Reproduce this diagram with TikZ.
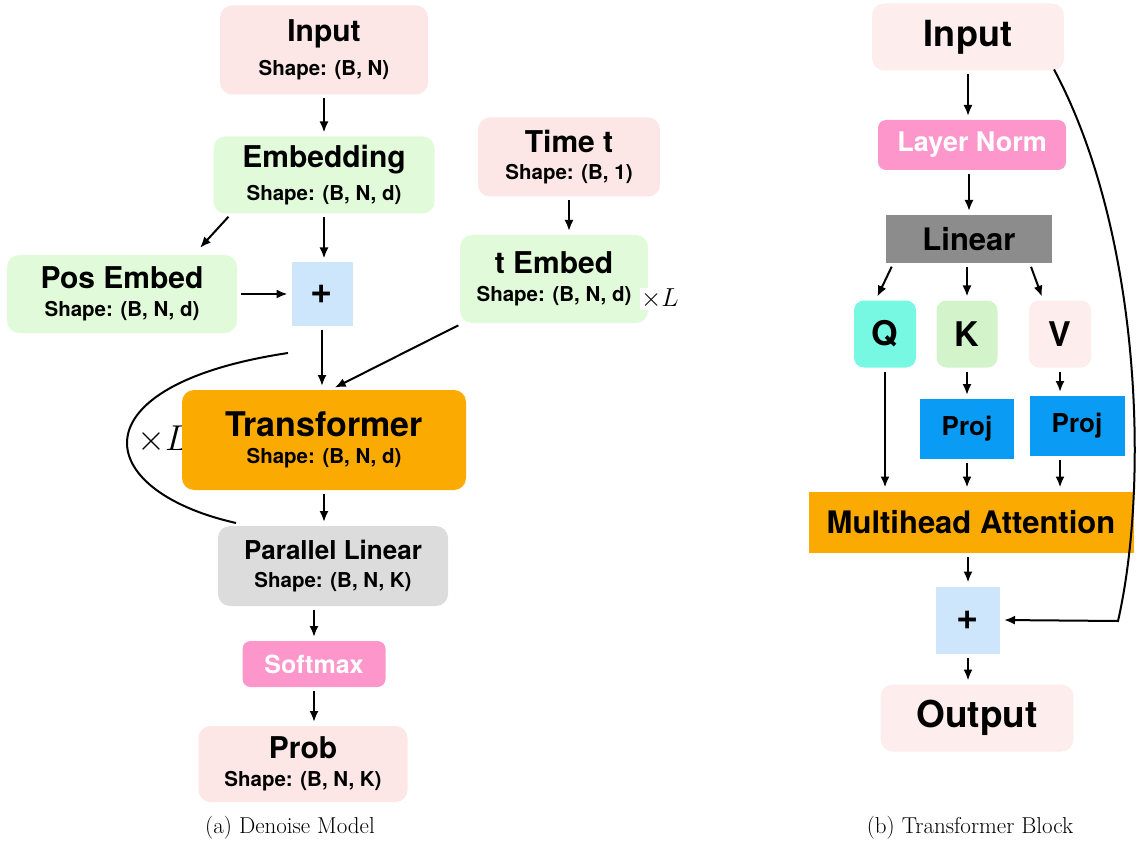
\RequirePackage{fix-cm}
\documentclass[tikz,border=0pt]{standalone}
\usepackage{fontspec}
\newfontfamily\helv{TeX Gyre Heros}
\usetikzlibrary{arrows.meta}
\definecolor{inpink}{HTML}{FCE6E6}
\definecolor{embgreen}{HTML}{E1FBDA}
\definecolor{plusblue}{HTML}{CDE6FB}
\definecolor{trorange}{HTML}{FAAA00}
\definecolor{plgray}{HTML}{DCDCDC}
\definecolor{normpink}{HTML}{FD97CB}
\definecolor{lingray}{HTML}{8C8C8C}
\definecolor{qcyan}{HTML}{76F8E3}
\definecolor{kgreen}{HTML}{D3F3CB}
\definecolor{projblue}{HTML}{0A9BF5}
\newcommand{\pxfont}[1]{\fontsize{#1}{#1}\selectfont}
\newcommand{\shp}[1]{\\[11pt]{\pxfont{20.5}Shape: #1}}
\begin{document}
\begin{tikzpicture}[x=1pt,y=-1pt,>={Latex[length=11pt,width=9pt]},line width=2pt,
  box/.style={rounded corners=12pt,align=center,inner sep=0pt,font=\helv\bfseries},
  sq/.style={align=center,inner sep=0pt,font=\helv\bfseries},
  arr/.style={->,shorten >=3pt,shorten <=3pt}]
\useasboundingbox (0,0) rectangle (1140,842);
% (a) denoise model
\node[box,fill=inpink,minimum width=208pt,minimum height=89pt] (in) at (324,50) {\pxfont{30}Input\shp{(B, N)}};
\node[box,fill=embgreen,minimum width=221pt,minimum height=77pt] (emb) at (324,175) {\pxfont{30}Embedding\shp{(B, N, d)}};
\node[box,fill=embgreen,minimum width=230pt,minimum height=78pt] (pos) at (122,294) {\pxfont{30}Pos Embed\shp{(B, N, d)}};
\node[sq,fill=plusblue,minimum width=61pt,minimum height=63pt] (plusA) at (322,294) {\pxfont{38}+};
\node[box,fill=inpink,minimum width=182pt,minimum height=79pt] (time) at (569,157) {\pxfont{30}Time t\shp{(B, 1)}};
\node[box,fill=embgreen,minimum width=188pt,minimum height=88pt] (temb) at (554,279) {\pxfont{30}t Embed\shp{(B, N, d)}};
\node[fill=white,inner sep=1pt] (tL) at (660,299) {\pxfont{26}$\times L$};
\node (loopL) at (163,440) {\pxfont{36}$\times L$};
\node[box,fill=trorange,minimum width=284pt,minimum height=100pt] (trans) at (324,440) {\pxfont{34}Transformer\shp{(B, N, d)}};
\node[box,fill=plgray,minimum width=230pt,minimum height=80pt] (pl) at (333,566) {\pxfont{26}Parallel Linear\shp{(B, N, K)}};
\node[box,rounded corners=8pt,fill=normpink,text=white,minimum width=143pt,minimum height=46pt] (soft) at (314,664) {\pxfont{25}Softmax};
\node[box,fill=inpink,minimum width=209pt,minimum height=76pt] (prob) at (303,764) {\pxfont{30}Prob\shp{(B, N, K)}};
\coordinate (loopA) at (288,353);
\coordinate (loopB) at (236,523);
\draw[arr] (in.south) -- (in.south |- emb.north);
\draw[arr] ([xshift=18pt]emb.south west) -- ([xshift=-40pt,yshift=4pt]pos.north east);
\draw[arr] (emb.south) -- (emb.south |- plusA.north);
\draw[arr] (pos.east) -- (plusA.west);
\draw[arr] (time.south) -- (time.south |- temb.north);
\draw[arr] (plusA.south) -- (plusA.south |- trans.north);
\draw[arr] ([xshift=2pt]temb.south west) -- ([xshift=8pt]trans.north);
\draw (loopA) .. controls (75,385) and (90,490) .. (loopB);
\draw[arr] (trans.south) -- (trans.south |- pl.north);
\draw[arr] (soft.north |- pl.south) -- (soft.north);
\draw[arr] (soft.south) -- (soft.south |- prob.north);
\node (capA) at (290,828) {\pxfont{23}(a) Denoise Model};
% (b) transformer block
\node[box,fill=inpink!70,minimum width=192pt,minimum height=67pt] (rin) at (968,37) {\pxfont{36}Input};
\node[box,rounded corners=8pt,fill=normpink,text=white,minimum width=188pt,minimum height=50pt] (ln) at (972,145) {\pxfont{27}Layer Norm};
\node[sq,fill=lingray,minimum width=166pt,minimum height=48pt] (lin) at (969,239) {\pxfont{31}Linear};
\node[box,rounded corners=10pt,fill=qcyan,minimum width=62pt,minimum height=67pt] (q) at (885,334) {\pxfont{34}Q};
\node[box,rounded corners=10pt,fill=kgreen,minimum width=61pt,minimum height=67pt] (k) at (967,334) {\pxfont{34}K};
\node[box,rounded corners=10pt,fill=inpink!70,minimum width=62pt,minimum height=67pt] (v) at (1060,334) {\pxfont{34}V};
\node[sq,fill=projblue,minimum width=94pt,minimum height=60pt] (projk) at (967,429) {\pxfont{26}Proj};
\node[sq,fill=projblue,minimum width=95pt,minimum height=60pt] (projv) at (1077,426) {\pxfont{26}Proj};
\node[sq,fill=trorange,minimum width=325pt,minimum height=61pt] (mha) at (971,522) {\pxfont{31}Multihead Attention};
\node[sq,fill=plusblue,minimum width=64pt,minimum height=67pt] (plusB) at (968,620) {\pxfont{38}+};
\node[box,fill=inpink!70,minimum width=193pt,minimum height=67pt] (out) at (977,718) {\pxfont{37}Output};
\coordinate (kink) at (1118,621);
\draw[arr] (rin.south) -- (rin.south |- ln.north);
\draw[arr] (lin.north |- ln.south) -- (lin.north);
\draw[arr] ([xshift=8pt]lin.south west) -- ([xshift=-9pt]q.north);
\draw[arr] (lin.south -| k.north) -- (k.north);
\draw[arr] ([xshift=-23pt]lin.south east) -- ([xshift=-17pt]v.north);
\draw[arr] (k.south) -- (projk.north);
\draw[arr] (v.south) -- (v.south |- projv.north);
\draw[arr] (q.south) -- (q.south |- mha.north);
\draw[arr] (projk.south) -- (projk.south |- mha.north);
\draw[arr] (v.south |- projv.south) -- (v.south |- mha.north);
\draw[arr] (plusB.north |- mha.south) -- (plusB.north);
\draw[arr] (plusB.south) -- (plusB.south |- out.north);
\draw[->,shorten >=3pt] ([xshift=-11pt,yshift=2pt]rin.south east) .. controls (1140,230) and (1150,480) .. (kink) -- (plusB.east);
\node (capB) at (970,828) {\pxfont{23}(b) Transformer Block};
\end{tikzpicture}
\end{document}
